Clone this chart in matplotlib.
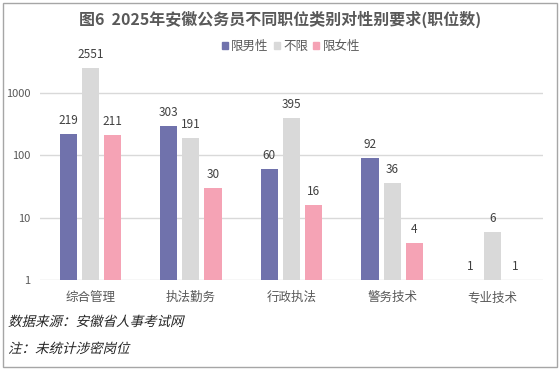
import matplotlib
matplotlib.use('Agg')
import matplotlib.pyplot as plt
from matplotlib.patches import Patch, Rectangle, PathPatch
from matplotlib.textpath import TextPath
from matplotlib.font_manager import FontProperties
from matplotlib.transforms import Affine2D
import numpy as np

plt.rcParams['font.family'] = ['Noto Sans CJK SC', 'DejaVu Sans']

# data
categories = ['综合管理', '执法勤务', '行政执法', '警务技术', '专业技术']
series_names = ['限男性', '不限', '限女性']
male_only = [219, 303, 60, 92, 1]
no_limit = [2551, 191, 395, 36, 6]
female_only = [211, 30, 16, 4, 1]
title = '图6  2025年安徽公务员不同职位类别对性别要求(职位数)'
notes = ['数据来源：安徽省人事考试网', '注：未统计涉密岗位']

colors = ['#7072AC', '#D9D9D9', '#F5A3B5']
W, H = 560, 372

fig = plt.figure(figsize=(W / 100, H / 100), dpi=100)
ax = fig.add_axes([40 / W, (H - 280) / H, 503 / W, 221 / H])

x = np.arange(len(categories))
bw = 0.17
offsets = [-0.22, 0, 0.22]
for vals, off, col in zip([male_only, no_limit, female_only], offsets, colors):
    heights = [v - 1 for v in vals]
    ax.bar(x + off, heights, bw, bottom=1, color=col, zorder=2)
    for xi, v in zip(x + off, vals):
        ax.annotate(str(v), (xi, v), xytext=(0, 5), textcoords='offset points',
                    ha='center', va='bottom', fontsize=8.5, color='#404040',
                    annotation_clip=False)

ax.set_yscale('log')
ax.set_ylim(1, 10 ** 3.55)
ax.set_xlim(-0.5, len(categories) - 0.5)
ax.set_yticks([1, 10, 100, 1000])
ax.set_yticklabels(['1', '10', '100', '1000'])
ax.yaxis.set_minor_locator(matplotlib.ticker.NullLocator())
ax.set_xticks(x)
ax.set_xticklabels(categories)
ax.tick_params(axis='x', length=0, labelsize=9, colors='#595959', pad=8)
ax.tick_params(axis='y', length=0, labelsize=8, colors='#595959', pad=7)
for s in ax.spines.values():
    s.set_visible(False)
ax.grid(axis='y', color='#D9D9D9', linewidth=1, zorder=0)

fig.text(0.5, 1 - 19 / H, title, ha='center', va='center', fontsize=11.5,
         fontweight='bold', color='#595959')

handles = [Patch(color=c, label=n) for c, n in zip(colors, series_names)]
fig.legend(handles=handles, loc='center', bbox_to_anchor=(291 / W, 1 - 46 / H),
           ncol=3, frameon=False, fontsize=9, handlelength=0.5, handleheight=0.5,
           handletextpad=0.25, columnspacing=0.4, labelcolor='#595959')

# italic footnotes: CJK font has no italic face, so skew the glyph outlines
fp = FontProperties(family='Noto Sans CJK SC')
for txt, ypix in zip(notes, [321, 348]):
    path = TextPath((0, 0), txt, size=13.5, prop=fp)
    tr = Affine2D().skew_deg(14, 0).translate(8, H - ypix - 5)
    fig.patches.append(PathPatch(path, transform=tr, facecolor='#262626',
                                 edgecolor='none'))

fig.patches.append(Rectangle((3 / W, 1 - 367 / H), 554 / W, 364 / H,
                             transform=fig.transFigure, fill=False,
                             edgecolor='#A6A6A6', linewidth=1))

fig.savefig('out.png', dpi=100)
